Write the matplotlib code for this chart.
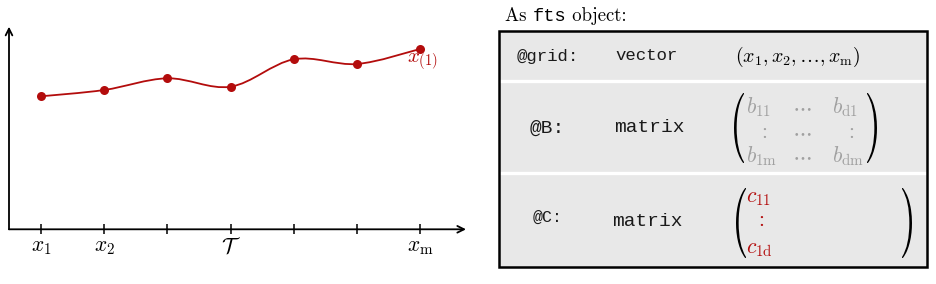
import numpy as np
import matplotlib
matplotlib.use("Agg")
import matplotlib.pyplot as plt
from matplotlib.path import Path
from matplotlib.patches import PathPatch, Rectangle
from matplotlib.textpath import TextPath
from matplotlib.font_manager import FontProperties
from matplotlib.transforms import Affine2D

plt.rcParams['mathtext.fontset'] = 'cm'
plt.rcParams['axes.formatter.use_mathtext'] = True

# ---- data ----
grid_pos = [1, 2, 3, 4, 5, 6, 7]
values = [1.330, 1.393, 1.510, 1.426, 1.700, 1.653, 1.803]
tick_labels = [r'$x_1$', r'$x_2$', '', r'$\mathcal{T}$', '', '', r'$x_\mathrm{m}$']
series_label = r'$x_{(1)}$'
title_parts = ['As ', 'fts', ' object:']
row_names = ['@grid:', '@B:', '@C:']
row_types = ['vector', 'matrix', 'matrix']
grid_expr = r'$(x_1, x_2, \ldots, x_\mathrm{m})$'
B_entries = [[r'$b_{11}$', r'$\cdots$', r'$b_{\mathrm{d}1}$'],
             [r'$:$', r'$\cdots$', r'$:$'],
             [r'$b_{1\mathrm{m}}$', r'$\cdots$', r'$b_{\mathrm{dm}}$']]
C_entries = [r'$c_{11}$', r'$:$', r'$c_{1\mathrm{d}}$']

RED = '#b30c0c'
GRAY = '#a0a0a0'
BG = '#e8e8e8'

W, H = 937, 284
fig = plt.figure(figsize=(W / 100, H / 100), dpi=100)

# background axes in pixel coordinates
bg = fig.add_axes([0, 0, 1, 1])
bg.set_xlim(0, W)
bg.set_ylim(H, 0)
bg.axis('off')

# ---- left plot ----
x_left, x_right, y_top, y_bot = 9, 466, 26.7, 229.3
ax = fig.add_axes([x_left / W, (H - y_bot) / H, (x_right - x_left) / W, (y_bot - y_top) / H])
ax.patch.set_alpha(0)
ax.set_xlim(0.493, 7.728)
ax.set_ylim(0, 2.026)
for s in ax.spines.values():
    s.set_visible(False)
for xy in [(1, 0), (0, 1)]:
    ax.annotate('', xy=xy, xytext=(0, 0), xycoords='axes fraction',
                arrowprops=dict(arrowstyle='->', lw=1.3, color='black', shrinkA=0, shrinkB=0,
                                mutation_scale=12))
ax.set_yticks([])
ax.set_xticks(grid_pos)
ax.set_xticklabels(tick_labels, fontsize=15.5)
ax.tick_params(axis='x', direction='inout', length=6.5, width=1.1, pad=2)

# smooth curve through points (cubic bezier, Catmull-Rom style)
P = np.column_stack([grid_pos, values]).astype(float)
verts = [P[0]]
codes = [Path.MOVETO]
n = len(P)
for i in range(n - 1):
    p0 = P[i - 1] if i > 0 else P[i]
    p1 = P[i]
    p2 = P[i + 1]
    p3 = P[i + 2] if i + 2 < n else P[i + 1]
    c1 = p1 + (p2 - p0) / 6.0
    c2 = p2 - (p3 - p1) / 6.0
    verts += [c1, c2, p2]
    codes += [Path.CURVE4] * 3
ax.add_patch(PathPatch(Path(verts, codes), fill=False, ec=RED, lw=1.3))
ax.plot(grid_pos, values, 'o', color=RED, ms=6.5, mec='none', zorder=3)
ax.annotate(series_label, xy=(grid_pos[-1], values[-1]), xytext=(2, -9.5),
            textcoords='offset points', ha='center', va='center', color=RED, fontsize=15)

# ---- right panel ----
# title: serif + typewriter + serif
t1 = bg.text(505, 21, title_parts[0], family='cmr10', fontsize=13.5, ha='left', va='baseline')
fig.canvas.draw()
r = fig.canvas.get_renderer()
inv = bg.transData.inverted()
bb = t1.get_window_extent(r)
x_next = inv.transform((bb.x1, bb.y0))[0]
t2 = bg.text(x_next, 21, title_parts[1], family='Liberation Mono', fontsize=13.5, ha='left', va='baseline')
bb = t2.get_window_extent(r)
x_next = inv.transform((bb.x1, bb.y0))[0]
bg.text(x_next, 21, title_parts[2], family='cmr10', fontsize=13.5, ha='left', va='baseline')

bx0, by0, bx1, by1 = 499, 31, 927, 267
bg.add_patch(Rectangle((bx0, by0), bx1 - bx0, by1 - by0, fc=BG, ec='none', zorder=1))
for ys in [81, 173]:
    bg.plot([bx0, bx1], [ys, ys], color='white', lw=2.4, zorder=2, solid_capstyle='butt')
bg.add_patch(Rectangle((bx0, by0), bx1 - bx0, by1 - by0, fc='none', ec='black', lw=1.8, zorder=3))

mono = 'Liberation Mono'
name_pos = [(548, 57, 12.5), (547, 128, 14), (548, 217, 12)]
type_pos = [(647, 56, 12.5), (649, 128, 14), (647, 221, 14)]
for (nx, ny, nf), (tx, ty, tf), nm, tp in zip(name_pos, type_pos, row_names, row_types):
    bg.text(nx, ny, nm, family=mono, fontsize=nf, ha='center', va='center', zorder=4, color='#1a1a1a')
    bg.text(tx, ty, tp, family=mono, fontsize=tf, ha='center', va='center', zorder=4, color='#1a1a1a')

bg.text(735, 62, grid_expr, fontsize=14.3, ha='left', va='baseline', zorder=4)


def paren(ch, x0, x1, y0, y1, color='black'):
    tpath = TextPath((0, 0), ch, size=100, prop=FontProperties(family='cmr10'))
    ext = tpath.get_extents()
    sx = (x1 - x0) / ext.width
    sy = (y1 - y0) / ext.height
    tr = Affine2D().translate(-ext.x0, -ext.y1).scale(sx, -sy).translate(x0, y0)
    bg.add_patch(PathPatch(tr.transform_path(tpath), fc=color, ec='none', lw=0, zorder=4))


paren('(', 734, 744, 93, 163)
paren(')', 867, 877, 93, 163)
paren('(', 736, 746, 188, 258)
paren(')', 902, 912, 188, 258)

FS = 15.5
b_rows_y = [113, 138, 162]
for ri, yy in enumerate(b_rows_y):
    e0, e1, e2 = B_entries[ri]
    if ri == 1:
        bg.text(763, yy, e0, fontsize=FS, color=GRAY, ha='center', va='baseline', zorder=4)
        bg.text(850, yy, e2, fontsize=FS, color=GRAY, ha='center', va='baseline', zorder=4)
    else:
        bg.text(746, yy, e0, fontsize=FS, color=GRAY, ha='left', va='baseline', zorder=4)
        bg.text(832, yy, e2, fontsize=FS, color=GRAY, ha='left', va='baseline', zorder=4)
    bg.text(802, yy, e1, fontsize=FS, color=GRAY, ha='center', va='baseline', zorder=4)

c_rows_y = [202, 226, 253]
for ri, yy in enumerate(c_rows_y):
    if ri == 1:
        bg.text(760, yy, C_entries[ri], fontsize=FS, color=RED, ha='center', va='baseline', zorder=4)
    else:
        bg.text(746, yy, C_entries[ri], fontsize=FS, color=RED, ha='left', va='baseline', zorder=4)

fig.savefig('out.png', dpi=100)
